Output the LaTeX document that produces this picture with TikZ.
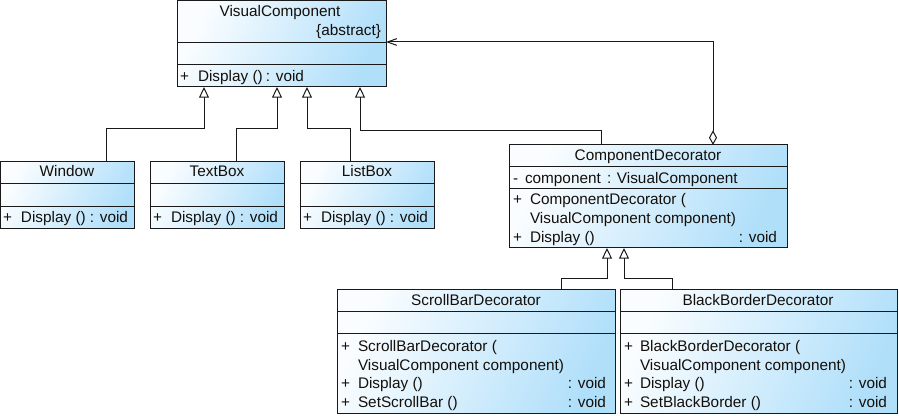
\documentclass[tikz,border=0pt]{standalone}
\usepackage{fontspec}
\setmainfont{Liberation Sans}
\usetikzlibrary{arrows.meta,fit,calc}
\definecolor{clsA}{RGB}{250,253,255}
\definecolor{clsB}{RGB}{176,223,250}
\definecolor{edgec}{RGB}{25,25,25}
\definecolor{txtc}{RGB}{20,15,10}
\tikzset{
  cls/.style={draw=edgec, line width=0.75pt, inner sep=0pt, outer sep=0pt, rectangle,
    top color=clsA, bottom color=clsB, shading angle=65},
  sepline/.style={draw=edgec, line width=0.75pt},
  lbl/.style={inner sep=0pt, outer sep=0pt, font=\fontsize{11.5}{13}\selectfont, text=txtc},
  gen/.style={draw=edgec, line width=0.75pt, -{Triangle[open, length=8pt, width=7.5pt, fill=white]}},
  agg/.style={draw=edgec, line width=0.75pt, {Diamond[open, length=11pt, width=6pt, fill=white]}-{Straight Barb[length=7pt, width=5pt]}}
}
\newcommand\clsline[2]{\draw[sepline] (#1.west |- 0,#2) -- (#1.east |- 0,#2);}
\begin{document}
\begin{tikzpicture}[x=0.75pt,y=-0.75pt]
\useasboundingbox (0,0) rectangle (899,416);

% ---------- VisualComponent
\node[cls, fit={(177,0.5)(386,87)}] (vc) {};
\clsline{vc}{43}
\clsline{vc}{65}
\node[lbl, anchor=base] (vct) at (280,17) {VisualComponent};
\node[lbl, anchor=base east] (vca) at (381,36) {\{abstract\}};
\node[lbl, anchor=base west] (vcp) at (180,82) {+};
\node[lbl, anchor=base west] (vcm) at (198,82) {Display ()};
\node[lbl, anchor=base east] (vcv) at (304,82) {: void};

% ---------- Window
\node[cls, fit={(0.5,162)(134,229)}] (win) {};
\clsline{win}{184}
\clsline{win}{207}
\node[lbl, anchor=base] (wint) at (67,177) {Window};
\node[lbl, anchor=base west] (winp) at (3,223) {+};
\node[lbl, anchor=base west] (winm) at (21,223) {Display ()};
\node[lbl, anchor=base east] (winv) at (128,223) {: void};

% ---------- TextBox
\node[cls, fit={(150,162)(284,229)}] (tb) {};
\clsline{tb}{184}
\clsline{tb}{207}
\node[lbl, anchor=base] (tbt) at (217,177) {TextBox};
\node[lbl, anchor=base west] (tbp) at (153,223) {+};
\node[lbl, anchor=base west] (tbm) at (171,223) {Display ()};
\node[lbl, anchor=base east] (tbv) at (278,223) {: void};

% ---------- ListBox
\node[cls, fit={(300,162)(434,229)}] (lb) {};
\clsline{lb}{184}
\clsline{lb}{207}
\node[lbl, anchor=base] (lbt) at (367,177) {ListBox};
\node[lbl, anchor=base west] (lbp) at (303,223) {+};
\node[lbl, anchor=base west] (lbm) at (321,223) {Display ()};
\node[lbl, anchor=base east] (lbv) at (428,223) {: void};

% ---------- ComponentDecorator
\node[cls, fit={(509,145)(787,248)}] (cd) {};
\clsline{cd}{167}
\clsline{cd}{189}
\node[lbl, anchor=base] (cdt) at (648,161) {ComponentDecorator};
\node[lbl, anchor=base west] (cdam) at (513,184) {-};
\node[lbl, anchor=base west] (cdan) at (525,184) {component};
\node[lbl, anchor=base west] (cdat) at (607,184) {: VisualComponent};
\node[lbl, anchor=base west] (cdp1) at (513,205) {+};
\node[lbl, anchor=base west] (cdm1) at (530,205) {ComponentDecorator (};
\node[lbl, anchor=base west] (cdm1b) at (530,224) {VisualComponent component)};
\node[lbl, anchor=base west] (cdp2) at (513,242.5) {+};
\node[lbl, anchor=base west] (cdm2) at (530,242.5) {Display ()};
\node[lbl, anchor=base east] (cdv2) at (777,242.5) {: void};

% ---------- ScrollBarDecorator
\node[cls, fit={(337,290)(615,413)}] (sbd) {};
\clsline{sbd}{312}
\clsline{sbd}{334}
\node[lbl, anchor=base] (sbdt) at (476,306) {ScrollBarDecorator};
\node[lbl, anchor=base west] (sbdp1) at (341,351.5) {+};
\node[lbl, anchor=base west] (sbdm1) at (358,351.5) {ScrollBarDecorator (};
\node[lbl, anchor=base west] (sbdm1b) at (358,370) {VisualComponent component)};
\node[lbl, anchor=base west] (sbdp2) at (341,388.5) {+};
\node[lbl, anchor=base west] (sbdm2) at (358,388.5) {Display ()};
\node[lbl, anchor=base east] (sbdv2) at (606,388.5) {: void};
\node[lbl, anchor=base west] (sbdp3) at (341,407) {+};
\node[lbl, anchor=base west] (sbdm3) at (358,407) {SetScrollBar ()};
\node[lbl, anchor=base east] (sbdv3) at (606,407) {: void};

% ---------- BlackBorderDecorator
\node[cls, fit={(620,290)(897,413)}] (bbd) {};
\clsline{bbd}{312}
\clsline{bbd}{334}
\node[lbl, anchor=base] (bbdt) at (758,306) {BlackBorderDecorator};
\node[lbl, anchor=base west] (bbdp1) at (624,351.5) {+};
\node[lbl, anchor=base west] (bbdm1) at (640,351.5) {BlackBorderDecorator (};
\node[lbl, anchor=base west] (bbdm1b) at (640,370) {VisualComponent component)};
\node[lbl, anchor=base west] (bbdp2) at (624,388.5) {+};
\node[lbl, anchor=base west] (bbdm2) at (640,388.5) {Display ()};
\node[lbl, anchor=base east] (bbdv2) at (887,388.5) {: void};
\node[lbl, anchor=base west] (bbdp3) at (624,407) {+};
\node[lbl, anchor=base west] (bbdm3) at (640,407) {SetBlackBorder ()};
\node[lbl, anchor=base east] (bbdv3) at (887,407) {: void};

% ---------- connectors
\draw[gen] (win.north -| 106,0) -- ++(0,-33) -| (vc.south -| 204,0);
\draw[gen] (tb.north -| 236,0) -- ++(0,-33) -| (vc.south -| 277,0);
\draw[gen] (lb.north -| 350,0) -- ++(0,-33) -| (vc.south -| 307,0);
\draw[gen] (cd.north -| 601,0) -- ++(0,-14) -| (vc.south -| 360,0);
\draw[agg] (cd.north -| 713,0) |- (vc.east |- 0,42);
\draw[gen] (sbd.north -| 561,0) -- ++(0,-11) -| (cd.south -| 607,0);
\draw[gen] (bbd.north -| 672,0) -- ++(0,-11) -| (cd.south -| 624,0);
\end{tikzpicture}
\end{document}
